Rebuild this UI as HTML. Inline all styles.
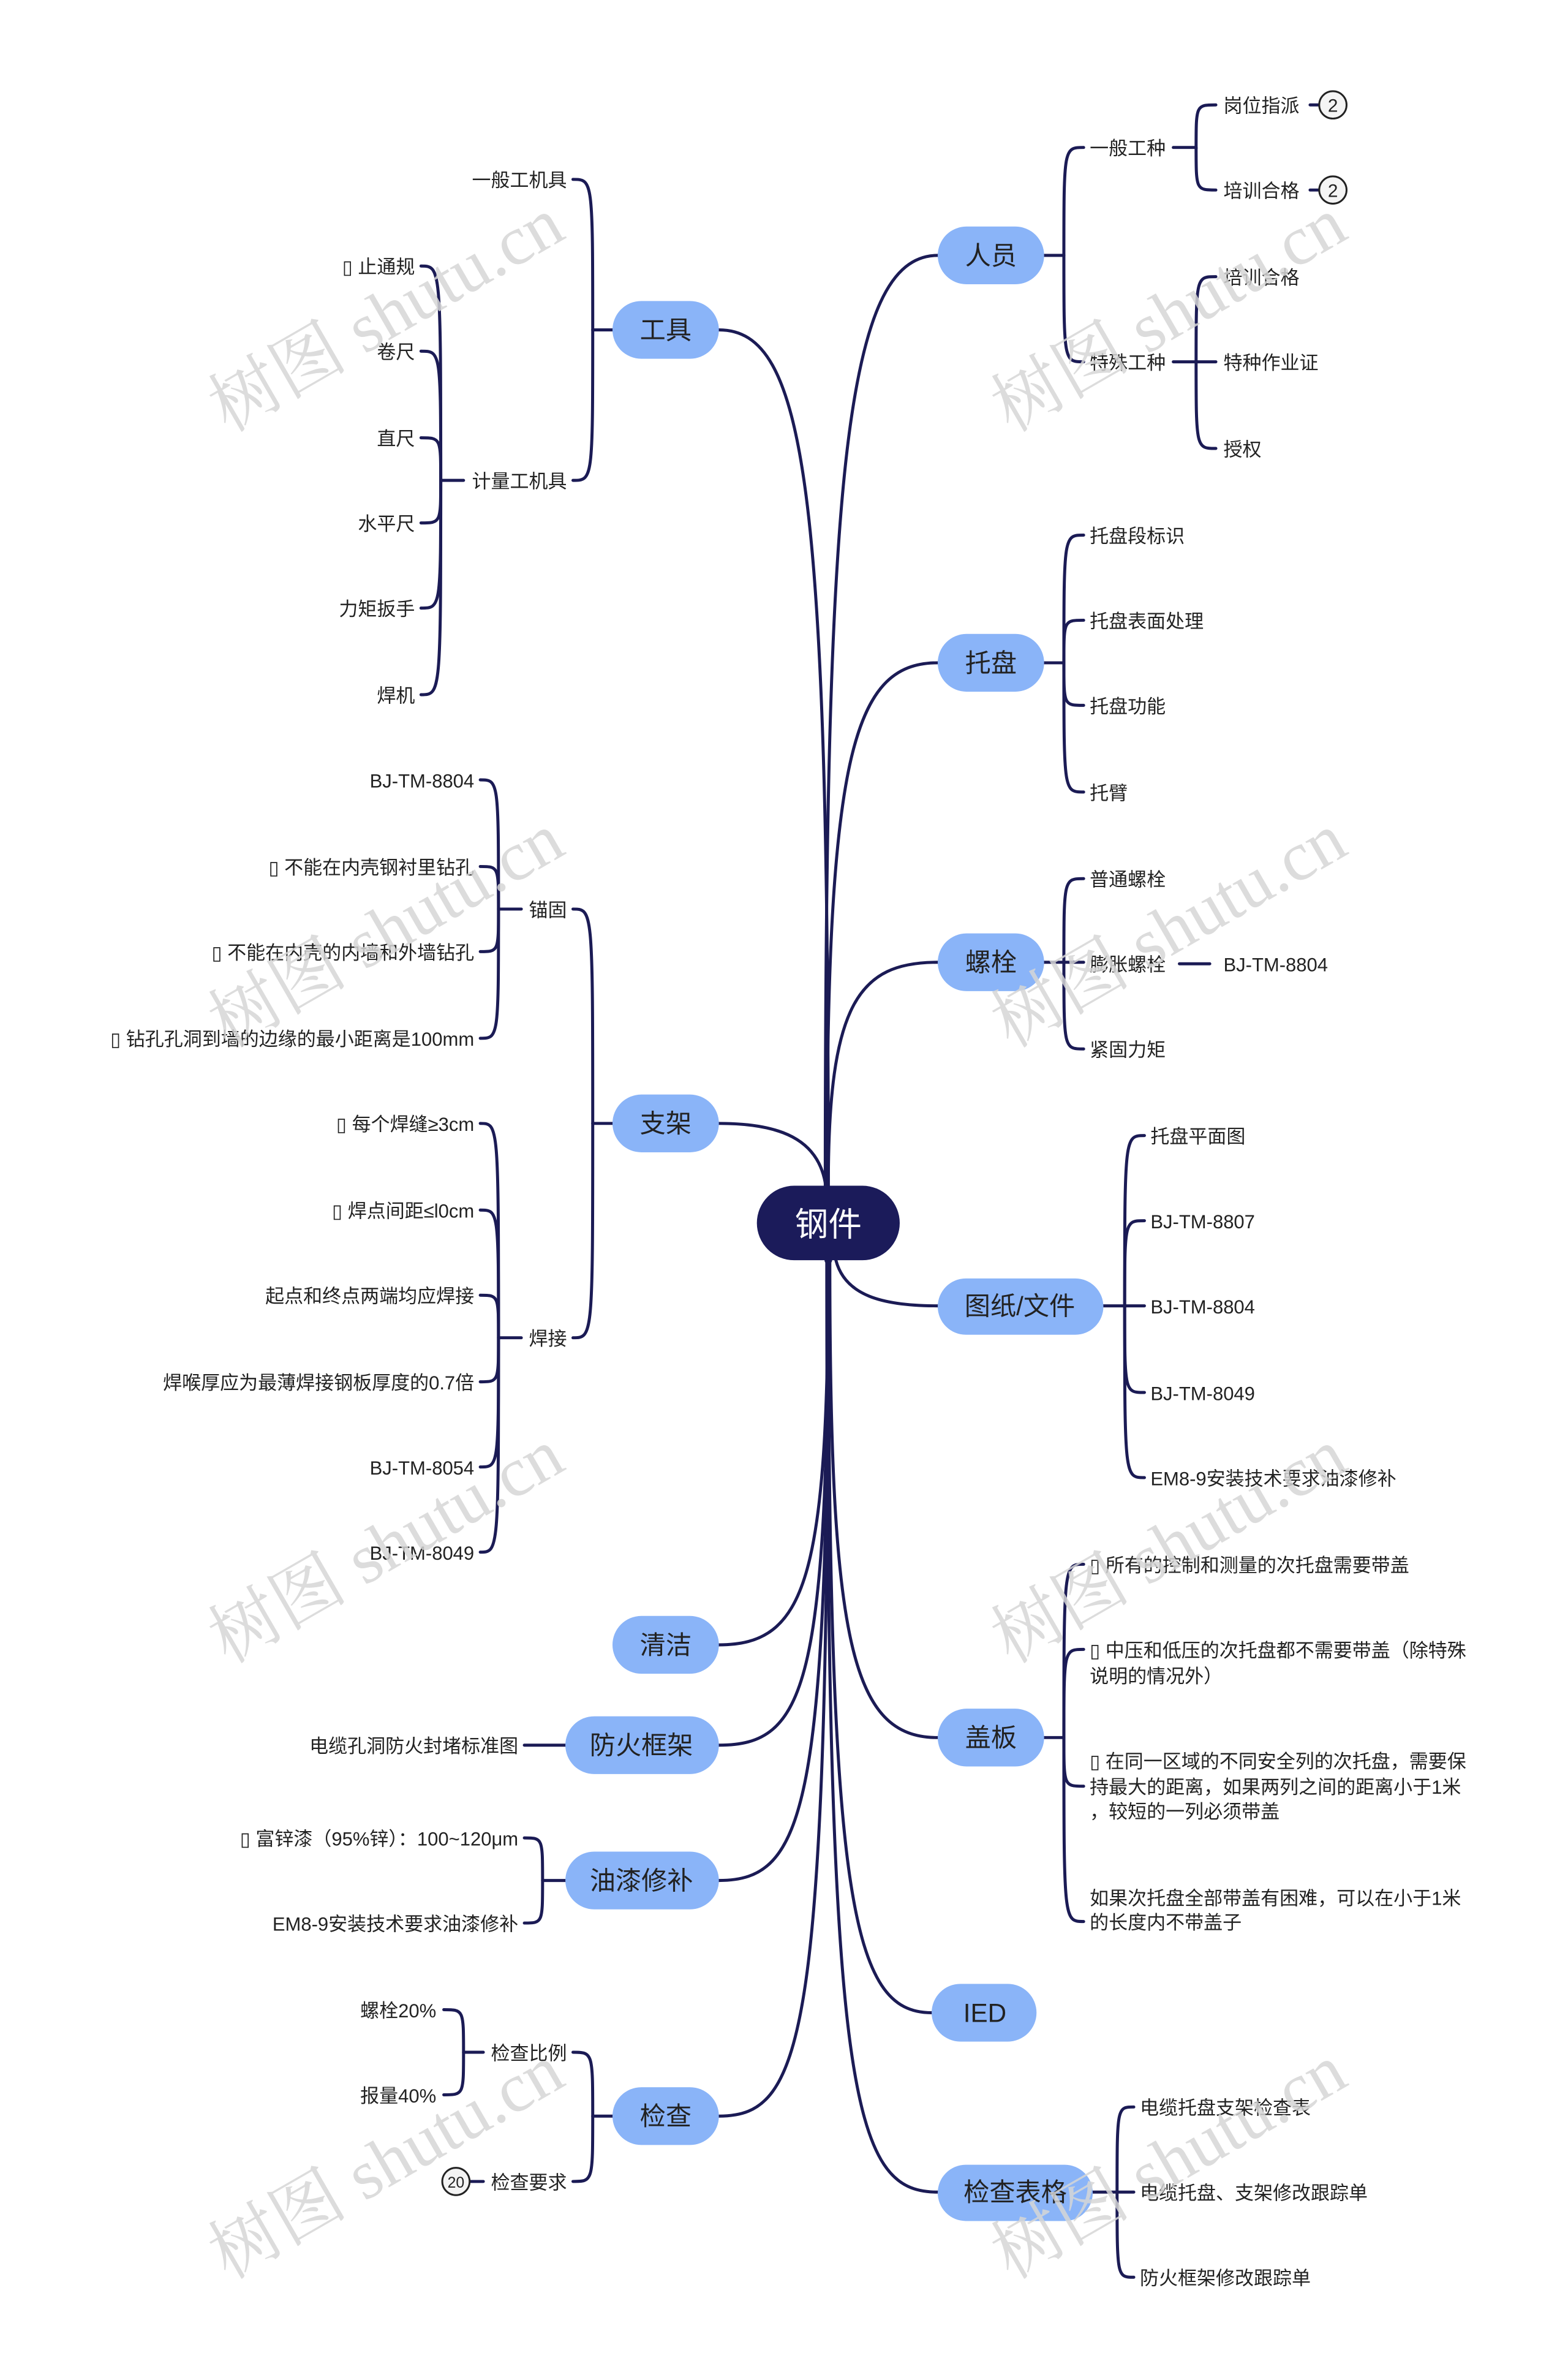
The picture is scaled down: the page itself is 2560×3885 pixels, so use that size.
<!DOCTYPE html>
<html><head><meta charset="utf-8"><style>
html,body{margin:0;padding:0;background:#fff;}
svg{display:block;}
text{font-family:"Liberation Sans","Noto Sans CJK SC",sans-serif;fill:#222;}
.s{font-size:12.5px;}
.n{font-size:17px;}
.wm{font-size:46px;fill:#d6d6d6;font-family:"Liberation Serif","Noto Serif CJK SC",serif;}
</style></head><body>
<svg width="2560" height="3885" viewBox="0 0 1031.7 1565.6" preserveAspectRatio="none" xmlns="http://www.w3.org/2000/svg">
<g fill="none" stroke="#1b1b55" stroke-width="2" stroke-linecap="round">
<path d="M543,780 C543,320 555,168 617,168"/>
<path d="M544,780 C544,500 560,436 617,436"/>
<path d="M545,780 C545,660 565,633 617,633"/>
<path d="M550,829 C556,852 580,859 617,859"/>
<path d="M546,829 C546,1080 560,1143 617,1143"/>
<path d="M545,829 C545,1250 560,1324 613,1324"/>
<path d="M544,829 C544,1380 560,1442 617,1442"/>
<path d="M545,780 C545,320 530,217 473,217"/>
<path d="M544,790 C544,750 515,739 473,739"/>
<path d="M545,829 C545,1040 530,1082 473,1082"/>
<path d="M545,829 C545,1110 530,1148 473,1148"/>
<path d="M545,829 C545,1190 530,1237 473,1237"/>
<path d="M545,829 C545,1340 530,1392 473,1392"/>
<path d="M545,790 L545,829" stroke-width="5"/>
</g>
<g fill="none" stroke="#1b1b55" stroke-width="2" stroke-linecap="round">
<path d="M687,168 L700,168"/>
<path d="M700,168 C700,97 700,97 713,97"/>
<path d="M700,168 C700,238 700,238 713,238"/>
<path d="M772,97 L787,97 C787,69 787,69 800,69"/><path d="M787,97 C787,125 787,125 800,125"/>
<path d="M862,69 L868,69"/><path d="M862,125 L868,125"/>
<path d="M772,238 L800,238"/><path d="M787,238 C787,182 787,182 800,182"/><path d="M787,238 C787,295 787,295 800,295"/>
<path d="M687,436 L700,436"/>
<path d="M700,436 C700,352 700,352 713,352"/><path d="M700,436 C700,408 700,408 713,408"/>
<path d="M700,436 C700,464 700,464 713,464"/><path d="M700,436 C700,521 700,521 713,521"/>
<path d="M687,633 L713,633"/>
<path d="M700,633 C700,578 700,578 713,578"/><path d="M700,633 C700,690 700,690 713,690"/>
<path d="M776,634 L796,634"/>
<path d="M726,859 L753,859"/>
<path d="M740,859 C740,747 740,747 753,747"/><path d="M740,859 C740,803 740,803 753,803"/>
<path d="M740,859 C740,916 740,916 753,916"/><path d="M740,859 C740,972 740,972 753,972"/>
<path d="M687,1143 L700,1143"/>
<path d="M700,1143 C700,1029 700,1029 713,1029"/><path d="M700,1143 C700,1085 700,1085 713,1085"/>
<path d="M700,1143 C700,1175 700,1175 713,1175"/><path d="M700,1143 C700,1264 700,1264 713,1264"/>
<path d="M719,1442 L746,1442"/>
<path d="M735,1442 C735,1386 735,1386 746,1386"/><path d="M735,1442 C735,1498 735,1498 746,1498"/>
<path d="M403,217 L390,217"/>
<path d="M390,217 C390,118 390,118 377,118"/><path d="M390,217 C390,316 390,316 377,316"/>
<path d="M305,316 L290,316"/>
<path d="M290,316 C290,175 290,175 277,175"/><path d="M290,316 C290,231 290,231 277,231"/>
<path d="M290,316 C290,288 290,288 277,288"/><path d="M290,316 C290,344 290,344 277,344"/>
<path d="M290,316 C290,400 290,400 277,400"/><path d="M290,316 C290,457 290,457 277,457"/>
<path d="M403,739 L390,739"/>
<path d="M390,739 C390,598 390,598 377,598"/><path d="M390,739 C390,880 390,880 377,880"/>
<path d="M343,598 L328,598"/>
<path d="M328,598 C328,513 328,513 316,513"/><path d="M328,598 C328,570 328,570 316,570"/>
<path d="M328,598 C328,626 328,626 316,626"/><path d="M328,598 C328,683 328,683 316,683"/>
<path d="M343,880 L328,880"/>
<path d="M328,880 C328,739 328,739 316,739"/><path d="M328,880 C328,796 328,796 316,796"/>
<path d="M328,880 C328,852 328,852 316,852"/><path d="M328,880 C328,909 328,909 316,909"/>
<path d="M328,880 C328,965 328,965 316,965"/><path d="M328,880 C328,1021 328,1021 316,1021"/>
<path d="M372,1148 L345,1148"/>
<path d="M372,1237 L357,1237"/>
<path d="M357,1237 C357,1209 357,1209 345,1209"/><path d="M357,1237 C357,1265 357,1265 345,1265"/>
<path d="M403,1392 L390,1392"/>
<path d="M390,1392 C390,1350 390,1350 377,1350"/><path d="M390,1392 C390,1435 390,1435 377,1435"/>
<path d="M318,1350 L305,1350"/>
<path d="M305,1350 C305,1322 305,1322 292,1322"/><path d="M305,1350 C305,1378 305,1378 292,1378"/>
<path d="M309,1435 L318,1435"/>
</g>
<rect x="498" y="780" width="94" height="49" rx="24.5" fill="#1b1b5a"/>
<text x="545" y="813" text-anchor="middle" style="font-size:22px;fill:#fff">钢件</text>
<g fill="#8ab4f8">
<rect x="617" y="149" width="70" height="38" rx="19"/>
<rect x="617" y="417" width="70" height="38" rx="19"/>
<rect x="617" y="614" width="70" height="38" rx="19"/>
<rect x="617" y="841" width="109" height="37" rx="18.5"/>
<rect x="617" y="1124" width="70" height="38" rx="19"/>
<rect x="613" y="1305" width="69" height="38" rx="19"/>
<rect x="617" y="1424" width="102" height="37" rx="18.5"/>
<rect x="403" y="198" width="70" height="38" rx="19"/>
<rect x="403" y="720" width="70" height="38" rx="19"/>
<rect x="403" y="1063" width="70" height="38" rx="19"/>
<rect x="372" y="1129" width="101" height="38" rx="19"/>
<rect x="372" y="1218" width="101" height="38" rx="19"/>
<rect x="403" y="1373" width="70" height="38" rx="19"/>
</g>
<g class="n" text-anchor="middle">
<text class="n" x="652" y="174">人员</text>
<text class="n" x="652" y="442">托盘</text>
<text class="n" x="652" y="639">螺栓</text>
<text class="n" x="671" y="865">图纸/文件</text>
<text class="n" x="652" y="1149">盖板</text>
<text class="n" x="648" y="1330">IED</text>
<text class="n" x="668" y="1448">检查表格</text>
<text class="n" x="438" y="223">工具</text>
<text class="n" x="438" y="745">支架</text>
<text class="n" x="438" y="1088">清洁</text>
<text class="n" x="422" y="1154">防火框架</text>
<text class="n" x="422" y="1243">油漆修补</text>
<text class="n" x="438" y="1398">检查</text>
</g>
<g class="s">
<text class="s" x="717" y="102">一般工种</text>
<text class="s" x="717" y="243">特殊工种</text>
<text class="s" x="805" y="74">岗位指派</text>
<text class="s" x="805" y="130">培训合格</text>
<text class="s" x="805" y="187">培训合格</text>
<text class="s" x="805" y="243">特种作业证</text>
<text class="s" x="805" y="300">授权</text>
<text class="s" x="717" y="357">托盘段标识</text>
<text class="s" x="717" y="413">托盘表面处理</text>
<text class="s" x="717" y="469">托盘功能</text>
<text class="s" x="717" y="526">托臂</text>
<text class="s" x="717" y="583">普通螺栓</text>
<text class="s" x="717" y="639">膨胀螺栓</text>
<text class="s" x="717" y="695">紧固力矩</text>
<text class="s" x="805" y="639">BJ-TM-8804</text>
<text class="s" x="757" y="752">托盘平面图</text>
<text class="s" x="757" y="808">BJ-TM-8807</text>
<text class="s" x="757" y="864">BJ-TM-8804</text>
<text class="s" x="757" y="921">BJ-TM-8049</text>
<text class="s" x="757" y="977">EM8-9安装技术要求油漆修补</text>
<text class="s" x="717" y="1034">▯ 所有的控制和测量的次托盘需要带盖</text>
<text class="s" x="717" y="1090">▯ 中压和低压的次托盘都不需要带盖（除特殊</text>
<text class="s" x="717" y="1107">说明的情况外）</text>
<text class="s" x="717" y="1163">▯ 在同一区域的不同安全列的次托盘，需要保</text>
<text class="s" x="717" y="1180">持最大的距离，如果两列之间的距离小于1米</text>
<text class="s" x="717" y="1196">，较短的一列必须带盖</text>
<text class="s" x="717" y="1253">如果次托盘全部带盖有困难，可以在小于1米</text>
<text class="s" x="717" y="1269">的长度内不带盖子</text>
<text class="s" x="750" y="1391">电缆托盘支架检查表</text>
<text class="s" x="750" y="1447">电缆托盘、支架修改跟踪单</text>
<text class="s" x="750" y="1503">防火框架修改跟踪单</text>
</g>
<g text-anchor="end">
<text class="s" x="373" y="123">一般工机具</text>
<text class="s" x="373" y="321">计量工机具</text>
<text class="s" x="273" y="180">▯ 止通规</text>
<text class="s" x="273" y="236">卷尺</text>
<text class="s" x="273" y="293">直尺</text>
<text class="s" x="273" y="349">水平尺</text>
<text class="s" x="273" y="405">力矩扳手</text>
<text class="s" x="273" y="462">焊机</text>
<text class="s" x="373" y="603">锚固</text>
<text class="s" x="373" y="885">焊接</text>
<text class="s" x="312" y="518">BJ-TM-8804</text>
<text class="s" x="312" y="575">▯ 不能在内壳钢衬里钻孔</text>
<text class="s" x="312" y="631">▯ 不能在内壳的内墙和外墙钻孔</text>
<text class="s" x="312" y="688">▯ 钻孔孔洞到墙的边缘的最小距离是100mm</text>
<text class="s" x="312" y="744">▯ 每个焊缝≥3cm</text>
<text class="s" x="312" y="801">▯ 焊点间距≤l0cm</text>
<text class="s" x="312" y="857">起点和终点两端均应焊接</text>
<text class="s" x="312" y="914">焊喉厚应为最薄焊接钢板厚度的0.7倍</text>
<text class="s" x="312" y="970">BJ-TM-8054</text>
<text class="s" x="312" y="1026">BJ-TM-8049</text>
<text class="s" x="341" y="1153">电缆孔洞防火封堵标准图</text>
<text class="s" x="341" y="1214">▯ 富锌漆（95%锌）：100~120μm</text>
<text class="s" x="341" y="1270">EM8-9安装技术要求油漆修补</text>
<text class="s" x="373" y="1355">检查比例</text>
<text class="s" x="373" y="1440">检查要求</text>
<text class="s" x="287" y="1327">螺栓20%</text>
<text class="s" x="287" y="1383">报量40%</text>
</g>
<g fill="#f4f4f4" stroke="#222" stroke-width="1.2">
<circle cx="877" cy="69" r="9"/><circle cx="877" cy="125" r="9"/><circle cx="300" cy="1435" r="9"/>
</g>
<text x="877" y="73.5" text-anchor="middle" style="font-size:12px">2</text>
<text x="877" y="129.5" text-anchor="middle" style="font-size:12px">2</text>
<text x="300" y="1439" text-anchor="middle" style="font-size:10px">20</text>
<g class="wm" opacity="0.85">
<text class="wm" transform="translate(150,285) rotate(-30)">树图 shutu.cn</text>
<text class="wm" transform="translate(665,285) rotate(-30)">树图 shutu.cn</text>
<text class="wm" transform="translate(150,690) rotate(-30)">树图 shutu.cn</text>
<text class="wm" transform="translate(665,690) rotate(-30)">树图 shutu.cn</text>
<text class="wm" transform="translate(150,1095) rotate(-30)">树图 shutu.cn</text>
<text class="wm" transform="translate(665,1095) rotate(-30)">树图 shutu.cn</text>
<text class="wm" transform="translate(150,1500) rotate(-30)">树图 shutu.cn</text>
<text class="wm" transform="translate(665,1500) rotate(-30)">树图 shutu.cn</text>
</g>
</svg>
</body></html>
